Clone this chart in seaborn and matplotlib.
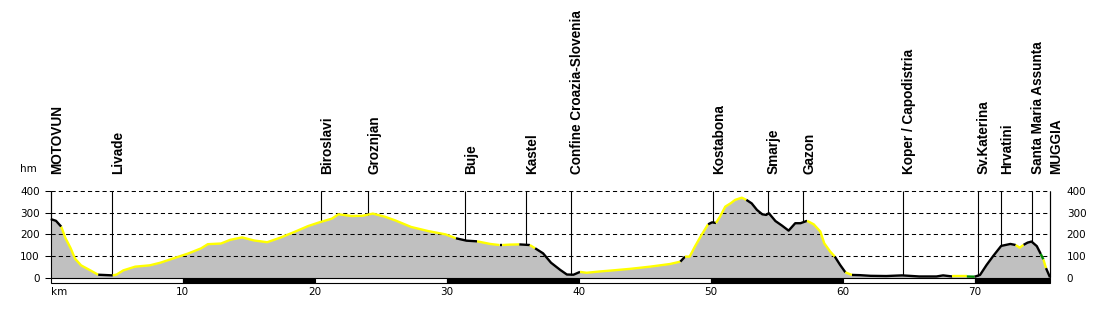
import numpy as np
import pandas as pd
import matplotlib
matplotlib.use("Agg")
import matplotlib.pyplot as plt
import seaborn as sns
from matplotlib.patches import Rectangle

# ---- profile data (distance km, elevation m, colour of segment starting at point)
km = [0.0, 0.4, 0.8, 1.1, 1.5, 1.85, 2.3, 3.0, 3.6, 4.7, 5.0, 5.5, 6.4, 7.5, 8.3,
      9.3, 10.4, 11.4, 11.9, 12.9, 13.6, 14.5, 15.4, 16.4, 17.4, 18.5, 19.5, 20.3,
      21.3, 21.8, 22.8, 23.6, 24.4, 25.3, 26.1, 27.3, 28.6, 29.9, 30.7, 31.5, 32.3,
      33.3, 34.0, 34.2, 34.8, 35.5, 36.3, 36.7, 37.3, 37.9, 38.6, 39.1, 39.6, 40.1,
      40.6, 41.6, 42.6, 43.9, 45.4, 46.9, 47.7, 48.05, 48.4, 48.8, 49.3, 49.8, 50.1,
      50.4, 50.7, 51.1, 51.5, 51.85, 52.35, 52.7, 53.1, 53.5, 53.9, 54.2, 54.4, 54.9,
      55.4, 55.9, 56.4, 56.8, 57.3, 57.8, 58.3, 58.6, 59.05, 59.4, 59.8, 60.2, 60.7,
      61.3, 62.1, 63.3, 64.5, 65.8, 67.1, 67.6, 68.3, 69.4, 70.0, 70.4, 70.9, 71.4,
      72.0, 72.7, 73.1, 73.4, 73.7, 74.0, 74.3, 74.7, 75.0, 75.2, 75.4, 75.7]
elev = [270, 262, 235, 185, 138, 88, 58, 35, 15, 12, 16, 35, 52, 58, 70,
        90, 112, 136, 155, 158, 175, 186, 172, 164, 185, 212, 238, 254,
        272, 292, 284, 285, 295, 281, 264, 234, 215, 200, 182, 171, 168,
        156, 151, 151, 153, 154, 151, 136, 113, 70, 37, 16, 15, 28,
        24, 30, 35, 42, 52, 64, 75, 98, 98, 144, 197, 246, 255,
        252, 281, 327, 342, 358, 368, 358, 342, 312, 292, 289, 297, 261,
        240, 217, 251, 251, 262, 246, 213, 159, 121, 98, 60, 26, 14,
        13, 10, 9, 12, 7, 7, 12, 7, 7, 6, 14, 60, 101,
        147, 156, 151, 139, 152, 162, 167, 146, 110, 85, 45, 3]
seg_color = ["k", "k", "y", "y", "y", "y", "y", "y", "k", "y", "y", "y", "y", "y", "y",
             "y", "y", "y", "y", "y", "y", "y", "y", "y", "y", "y", "y", "y",
             "y", "y", "y", "y", "y", "y", "y", "y", "y", "y", "k", "k", "y",
             "y", "k", "y", "y", "k", "y", "k", "k", "k", "k", "k", "k", "y",
             "y", "y", "y", "y", "y", "y", "k", "y", "y", "y", "y", "k", "k",
             "y", "y", "y", "y", "y", "y", "k", "k", "k", "k", "k", "k", "k",
             "k", "k", "k", "k", "y", "y", "y", "y", "y", "k", "k", "y", "k",
             "k", "k", "k", "k", "k", "k", "k", "y", "g", "k", "k", "k", "k",
             "k", "k", "y", "y", "k", "k", "k", "k", "g", "y", "k", "k"]

place_names = ["MOTOVUN", "Livade", "Biroslavi", "Groznjan", "Buje", "Kastel",
               "Confine Croazia-Slovenia", "Kostabona", "Smarje", "Gazon",
               "Koper / Capodistria", "Sv.Katerina", "Hrvatini",
               "Santa Maria Assunta", "MUGGIA"]
place_km = [0.0, 4.68, 20.45, 24.06, 31.39, 35.98, 39.39, 50.17, 54.32, 57.02,
            64.55, 70.23, 71.97, 74.32, 75.7]

y_ticks = [0, 100, 200, 300, 400]
x_ticks = [0, 10, 20, 30, 40, 50, 60, 70]
x_tick_labels = ["km", "10", "20", "30", "40", "50", "60", "70"]
x_max = 75.7

COLORS = {"y": "#ffff00", "k": "#000000", "g": "#008c00"}

# ---- build colour runs for seaborn
rows, palette, order = [], {}, []
start = 0
n = len(km)
rid = 0
for i in range(1, n):
    if i == n - 1 or seg_color[i] != seg_color[start]:
        name = f"r{rid}"
        for j in range(start, i + 1):
            rows.append((km[j], elev[j], name))
        palette[name] = COLORS[seg_color[start]]
        order.append(name)
        rid += 1
        start = i
df = pd.DataFrame(rows, columns=["km", "elev", "run"])

sns.set_theme(style="white")
plt.rcParams["font.family"] = ["DejaVu Sans"]

W, H = 1100, 309
fig = plt.figure(figsize=(W / 100, H / 100), dpi=100)
fig.patch.set_facecolor("white")
x0, x1 = 50.7, 1050
ybot, ytop = 282.8, 190.7
ax = fig.add_axes([x0 / W, (H - ybot) / H, (x1 - x0) / W, (ybot - ytop) / H])
ax.set_facecolor("white")
ax.set_xlim(0, x_max)
ax.set_ylim(-22, 400)
for s in ax.spines.values():
    s.set_visible(False)

# fill
ax.fill_between(km, elev, 0, color="#c0c0c0", lw=0, zorder=1)

# grid
ax.hlines(y_ticks[1:], 0, x_max, colors="black", linewidth=0.75,
          linestyles=(0, (4, 3)), zorder=2, clip_on=False)

# border lines
ax.vlines([0, x_max], 0, 400, colors="black", linewidth=0.8, zorder=2, clip_on=False)

# place lines + labels
for name, k in zip(place_names, place_km):
    e = np.interp(k, km, elev)
    ax.vlines(k, e, 400, colors="black", linewidth=0.8, zorder=2, clip_on=False)
    ax.annotate(name, xy=(k, 400), xytext=(-1, 17), textcoords="offset pixels",
                rotation=90, ha="left", va="bottom", fontsize=9.8,
                fontweight="bold", family=["Liberation Sans", "DejaVu Sans"],
                color="black", annotation_clip=False)

# profile line
sns.lineplot(data=df, x="km", y="elev", hue="run", hue_order=order,
             palette=palette, estimator=None, sort=False, legend=False,
             linewidth=1.7, ax=ax, zorder=3)
for ln in ax.get_lines():
    ln.set_solid_capstyle("butt")
    ln.set_clip_on(False)

# km bar
for i, k0 in enumerate(range(0, 80, 10)):
    if k0 >= x_max:
        break
    w = min(10, x_max - k0)
    ax.add_patch(Rectangle((k0, -22), w, 22, facecolor="white" if i % 2 == 0 else "black",
                           edgecolor="black", linewidth=0.8, zorder=4, clip_on=False))

ax.set_xlabel("")
ax.set_ylabel("")
ax.set_xticks(x_ticks)
ax.set_xticklabels(x_tick_labels)
ax.tick_params(axis="x", length=0, pad=3, labelsize=7.5, colors="black")
ax.get_xticklabels()[0].set_ha("left")
ax.set_yticks(y_ticks)
ax.set_yticklabels([str(v) for v in y_ticks])
ax.tick_params(axis="y", left=True, length=4, width=0.75, pad=4, labelsize=7.5,
               colors="black")

ax2 = ax.twinx()
ax2.set_ylim(ax.get_ylim())
ax2.set_yticks(y_ticks)
ax2.set_yticklabels([str(v) for v in y_ticks])
ax2.tick_params(axis="y", right=True, length=0, pad=12, labelsize=7.5, colors="black")
for s in ax2.spines.values():
    s.set_visible(False)
ax2.grid(False)

fig.text(20 / W, 1 - 172 / H, "hm", fontsize=7.5, ha="left", va="baseline", color="black")

fig.savefig("out.png", dpi=100, facecolor="white")
